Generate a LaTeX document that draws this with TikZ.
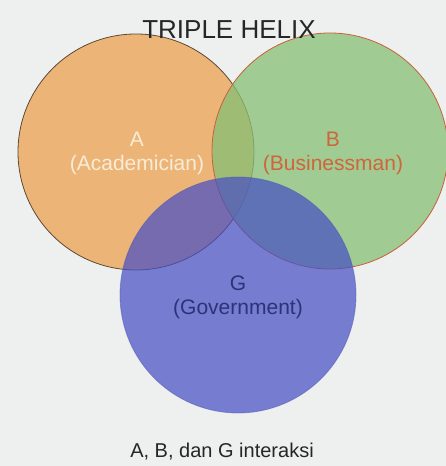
\documentclass[tikz,border=0pt]{standalone}
\usepackage{fontspec}
\setmainfont{Liberation Sans}
\definecolor{bg}{HTML}{EEF0F0}
\definecolor{afill}{HTML}{EDAA62}
\definecolor{bfill}{HTML}{86C074}
\definecolor{gfill}{HTML}{4850C4}
\definecolor{aline}{HTML}{5A4A30}
\definecolor{bline}{HTML}{C8603A}
\definecolor{gline}{HTML}{5058B0}
\definecolor{atext}{HTML}{F8ECD6}
\definecolor{btext}{HTML}{D0643A}
\definecolor{gtext}{HTML}{2E3278}
\begin{document}
\begin{tikzpicture}[x=1pt,y=1pt,
  setc/.style={circle,minimum size=236pt,inner sep=0pt,line width=0.8pt},
  lab/.style={font=\fontsize{21}{24}\selectfont,align=center,inner sep=0pt}]
\fill[bg] (0,0) rectangle (446,466);
\useasboundingbox (0,0) rectangle (446,466);
\node[setc,fill=afill,fill opacity=0.85,draw=aline] (A) at (136,314) {};
\node[setc,fill=bfill,fill opacity=0.75,draw=bline] (B) at (330,315) {};
\node[setc,fill=gfill,fill opacity=0.72,draw=gline,draw opacity=0.5] (G) at (238,171) {};
\node[font=\fontsize{26}{30}\selectfont,text=black!85] (title) at (229,436) {TRIPLE HELIX};
\node[lab,text=atext] (la) at (137,313) {A\\(Academician)};
\node[lab,text=btext] (lb) at (333,313) {B\\(Businessman)};
\node[lab,text=gtext] (lg) at (238,168.5) {G\\(Government)};
\node[font=\fontsize{20}{24}\selectfont,text=black!85] (cap) at (222,14) {A, B, dan G interaksi};
\end{tikzpicture}
\end{document}
